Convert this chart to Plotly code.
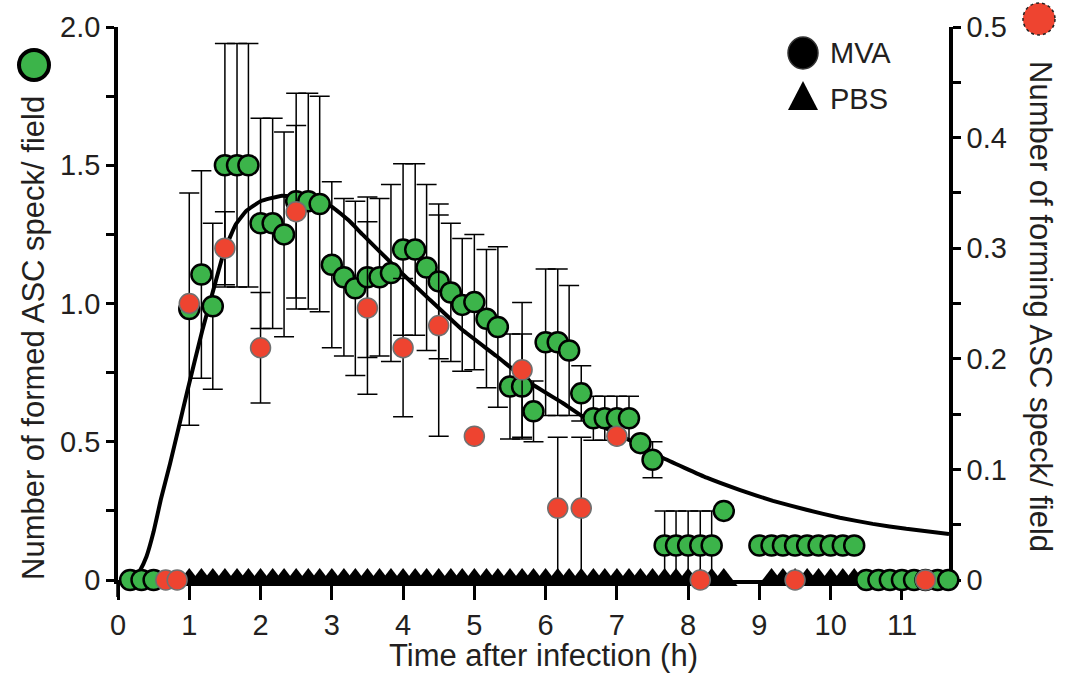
import plotly.graph_objects as go

# ---------------- data ----------------
green_x = [0.17, 0.33, 0.5, 1.0, 1.17, 1.33, 1.5, 1.67, 1.83, 2.0, 2.17, 2.33,
           2.5, 2.67, 2.83, 3.0, 3.17, 3.33, 3.5, 3.67, 3.83, 4.0, 4.17, 4.33,
           4.5, 4.67, 4.83, 5.0, 5.17, 5.33, 5.5, 5.67, 5.83, 6.0, 6.17, 6.33,
           6.5, 6.67, 6.83, 7.0, 7.17, 7.33, 7.5, 7.67, 7.83, 8.0, 8.17, 8.33,
           8.5, 9.0, 9.17, 9.33, 9.5, 9.67, 9.83, 10.0, 10.17, 10.33,
           10.5, 10.67, 10.83, 11.0, 11.17, 11.33, 11.5, 11.65]
green_y = [0, 0, 0, 0.98, 1.105, 0.99, 1.5, 1.5, 1.5, 1.29, 1.29, 1.25,
           1.37, 1.37, 1.36, 1.14, 1.095, 1.055, 1.095, 1.095, 1.11, 1.195, 1.195, 1.13,
           1.08, 1.04, 0.995, 1.005, 0.945, 0.915, 0.70, 0.70, 0.61, 0.86, 0.86, 0.83,
           0.675, 0.585, 0.585, 0.585, 0.585, 0.495, 0.435, 0.125, 0.125, 0.125, 0.125, 0.125,
           0.25, 0.125, 0.125, 0.125, 0.125, 0.125, 0.125, 0.125, 0.125, 0.125,
           0, 0, 0, 0, 0, 0, 0, 0]
green_err = [0, 0, 0, 0.42, 0.375, 0.30, 0.44, 0.44, 0.44, 0.38, 0.38, 0.37,
             0.39, 0.39, 0.39, 0.30, 0.285, 0.315, 0.29, 0.285, 0.32, 0.31, 0.31, 0.30,
             0.28, 0.25, 0.24, 0.245, 0.25, 0.29, 0.19, 0.19, 0.11, 0.265, 0.265, 0.235,
             0.10, 0.08, 0.08, 0.08, 0.08, 0, 0.065, 0.125, 0.125, 0.125, 0.125, 0.125,
             0, 0, 0, 0, 0, 0, 0, 0, 0, 0,
             0, 0, 0, 0, 0, 0, 0, 0]

red_x = [0.67, 0.83, 1.0, 1.5, 2.0, 2.5, 3.5, 4.0, 4.5, 5.0, 5.67, 6.17, 6.5, 7.0, 8.17, 9.5, 11.33]
red_y = [0, 0, 0.25, 0.30, 0.21, 0.333, 0.246, 0.21, 0.23, 0.13, 0.19, 0.065, 0.065, 0.13, 0, 0, 0]
red_err = [0, 0, 0, 0.033, 0.05, 0.078, 0.078, 0.0625, 0.10, 0, 0.061, 0.064, 0.064, 0, 0, 0, 0]

pbs_x = [1.0, 1.17, 1.33, 1.5, 1.67, 1.83, 2.0, 2.17, 2.33, 2.5, 2.67, 2.83,
         3.0, 3.17, 3.33, 3.5, 3.67, 3.83, 4.0, 4.17, 4.33, 4.5, 4.67, 4.83,
         5.0, 5.17, 5.33, 5.5, 5.67, 5.83, 6.0, 6.17, 6.33, 6.5, 6.67, 6.83,
         7.0, 7.17, 7.33, 7.5, 7.67, 7.83, 8.0, 8.17, 8.33, 8.5,
         9.17, 9.33, 9.5, 9.67, 9.83, 10.0, 10.17, 10.33]
pbs_y = [0] * len(pbs_x)

fit_x = [0.22, 0.3, 0.4, 0.5, 0.6, 0.73, 0.85, 0.97, 1.18, 1.36, 1.49, 1.65, 1.8,
         2.0, 2.3, 2.64, 3.0, 3.24, 3.43, 3.9, 4.37, 4.83, 5.31, 5.77, 6.24, 6.5,
         7.22, 7.64, 8.26, 8.73, 9.19, 9.66, 10.13, 10.59, 11.06, 11.66]
fit_y = [0, 0.03, 0.085, 0.175, 0.29, 0.42, 0.55, 0.68, 0.90, 1.07, 1.19, 1.285, 1.335,
         1.37, 1.39, 1.38, 1.35, 1.30, 1.25, 1.13, 1.015, 0.905, 0.81, 0.715, 0.64, 0.595,
         0.50, 0.442, 0.37, 0.325, 0.286, 0.254, 0.225, 0.203, 0.185, 0.166]

x_ticks = list(range(0, 12))
y_left_ticks = [0, 0.5, 1.0, 1.5, 2.0]
y_left_text = ["0", "0.5", "1.0", "1.5", "2.0"]
y_right_ticks = [0, 0.1, 0.2, 0.3, 0.4, 0.5]
y_right_text = ["0", "0.1", "0.2", "0.3", "0.4", "0.5"]

# ---------------- layout geometry ----------------
W, H = 1069, 681
ML, MR, MT, MB = 118, 120, 27, 101
PW, PH = W - ML - MR, H - MT - MB
TXT = "#231F20"
FONT = "Liberation Sans, Arial, sans-serif"
GREEN = "#3CB44A"
RED = "#EE4430"


def px(x):
    return (x - ML) / PW


def py(y):
    return (H - MB - y) / PH


fig = go.Figure()

fig.add_trace(go.Scatter(x=fit_x, y=fit_y, mode="lines",
                         line=dict(color="black", width=4, shape="spline", smoothing=0.3),
                         hoverinfo="skip", showlegend=False, cliponaxis=False))

fig.add_trace(go.Scatter(x=pbs_x, y=pbs_y, mode="markers", yaxis="y",
                         marker=dict(symbol="triangle-up", size=24, color="black", line=dict(width=0)),
                         showlegend=False, cliponaxis=False))

fig.add_trace(go.Scatter(x=green_x, y=green_y, mode="markers",
                         error_y=dict(type="data", array=green_err, color="black", thickness=1.5, width=10),
                         marker=dict(size=20, color=GREEN, line=dict(color="black", width=2.5)),
                         showlegend=False, cliponaxis=False))

fig.add_trace(go.Scatter(x=red_x, y=red_y, mode="markers", yaxis="y2",
                         error_y=dict(type="data", array=red_err, color="black", thickness=1.5, width=10),
                         marker=dict(size=20, color=RED, line=dict(color="#707070", width=1.5)),
                         showlegend=False, cliponaxis=False))

axis_common = dict(showline=True, linecolor="black", linewidth=3.5, ticks="outside", tickcolor="black",
                   tickwidth=3, showgrid=False, zeroline=False, layer="below traces",
                   tickfont=dict(family=FONT, size=29, color=TXT))

fig.update_layout(
    width=W, height=H,
    margin=dict(l=ML, r=MR, t=MT, b=MB),
    paper_bgcolor="white", plot_bgcolor="white",
    showlegend=False,
    xaxis=dict(range=[0, 11.66], tickvals=x_ticks, ticklen=16, **axis_common),
    yaxis=dict(range=[0, 2], tickvals=y_left_ticks, ticktext=y_left_text, ticklen=8,
               minor=dict(dtick=0.25, ticks="outside", ticklen=8, tickwidth=3, tickcolor="black"),
               **axis_common),
    yaxis2=dict(range=[0, 0.5], overlaying="y", side="right", anchor="x",
                tickvals=y_right_ticks, ticktext=y_right_text, ticklen=8,
                minor=dict(dtick=0.05, ticks="outside", ticklen=8, tickwidth=3, tickcolor="black"),
                **axis_common),
)

shapes = []
# left axis extension below zero
shapes.append(dict(type="line", xref="paper", yref="paper", x0=0, x1=0, y0=0, y1=py(597),
                   line=dict(color="black", width=3.5)))
# title marker circles
shapes.append(dict(type="circle", xref="paper", yref="paper", xsizemode="pixel", ysizemode="pixel",
                   xanchor=px(34), yanchor=py(65), x0=-15, x1=15, y0=-15, y1=15,
                   fillcolor=GREEN, line=dict(color="black", width=4)))
shapes.append(dict(type="circle", xref="paper", yref="paper", xsizemode="pixel", ysizemode="pixel",
                   xanchor=px(1039), yanchor=py(19), x0=-16, x1=16, y0=-16, y1=16,
                   fillcolor=RED, line=dict(color="#222", width=1.5, dash="dot")))
# legend symbols
shapes.append(dict(type="circle", xref="paper", yref="paper", xsizemode="pixel", ysizemode="pixel",
                   xanchor=px(803), yanchor=py(53), x0=-15, x1=15, y0=-16, y1=16,
                   fillcolor="black", line=dict(color="#333", width=1.5)))
shapes.append(dict(type="path", xref="paper", yref="paper", xsizemode="pixel", ysizemode="pixel",
                   xanchor=px(803), yanchor=py(96), path="M-15,-14 L15,-14 L0,15 Z",
                   fillcolor="black", line=dict(color="black", width=0)))
fig.update_layout(shapes=shapes)

ann = []
ann.append(dict(text="Number of formed ASC speck/ field", textangle=-90, xref="paper", yref="paper",
                x=px(33), y=py(338), xanchor="center", yanchor="middle", showarrow=False,
                font=dict(family=FONT, size=31, color=TXT)))
ann.append(dict(text="Number of forming ASC speck/ field", textangle=90, xref="paper", yref="paper",
                x=px(1041), y=py(306), xanchor="center", yanchor="middle", showarrow=False,
                font=dict(family=FONT, size=31, color=TXT)))
ann.append(dict(text="Time after infection (h)", xref="paper", yref="paper",
                x=px(543), y=py(655), xanchor="center", yanchor="middle", showarrow=False,
                font=dict(family=FONT, size=31, color=TXT)))
ann.append(dict(text="MVA", xref="paper", yref="paper", x=px(828), y=py(53), xanchor="left", yanchor="middle",
                showarrow=False, font=dict(family=FONT, size=29, color=TXT)))
ann.append(dict(text="PBS", xref="paper", yref="paper", x=px(828), y=py(99), xanchor="left", yanchor="middle",
                showarrow=False, font=dict(family=FONT, size=29, color=TXT)))
fig.update_layout(annotations=ann)

fig.write_html("out.html")
